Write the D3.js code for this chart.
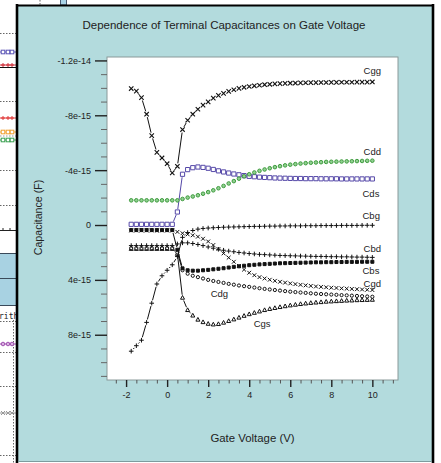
<!DOCTYPE html>
<html><head><meta charset="utf-8">
<script src="https://cdn.jsdelivr.net/npm/d3@7"></script>
<style>html,body{margin:0;padding:0;background:#fff;overflow:hidden}svg{display:block;font-family:"Liberation Sans",Arial,Helvetica,sans-serif}</style>
</head><body><svg id="c" width="441" height="463"></svg>
<script>
// ---------------- DATA (capacitance in units of 1e-15 F) ----------------
const voltage = [-1.75,-1.5,-1.25,-1,-0.75,-0.5,-0.25,0,0.25,0.5,0.75,1,1.25,1.5,1.75,2,2.25,2.5,2.75,3,3.25,3.5,3.75,4,4.25,4.5,4.75,5,5.25,5.5,5.75,6,6.25,6.5,6.75,7,7.25,7.5,7.75,8,8.25,8.5,8.75,9,9.25,9.5,9.75,10];
const Cgg = [-9.95,-9.76,-9.29,-8.08,-6.52,-5.30,-4.89,-4.47,-3.80,-4.28,-6.96,-7.64,-8.08,-8.44,-8.74,-8.98,-9.25,-9.45,-9.60,-9.74,-9.86,-9.96,-10.04,-10.10,-10.15,-10.19,-10.23,-10.26,-10.29,-10.31,-10.33,-10.34,-10.35,-10.36,-10.37,-10.38,-10.38,-10.39,-10.39,-10.40,-10.40,-10.41,-10.41,-10.41,-10.42,-10.42,-10.42,-10.43];
const Cdd = [-1.80,-1.80,-1.80,-1.80,-1.80,-1.80,-1.80,-1.80,-1.80,-1.80,-1.90,-2.00,-2.08,-2.17,-2.28,-2.40,-2.53,-2.68,-2.85,-3.03,-3.20,-3.38,-3.55,-3.70,-3.83,-3.95,-4.05,-4.14,-4.22,-4.29,-4.35,-4.40,-4.44,-4.48,-4.51,-4.54,-4.56,-4.58,-4.60,-4.61,-4.62,-4.63,-4.64,-4.65,-4.66,-4.67,-4.68,-4.69];
const Cds = [-0.05,-0.05,-0.05,-0.05,-0.05,-0.05,-0.05,-0.05,-0.05,-0.95,-3.70,-4.04,-4.18,-4.23,-4.20,-4.14,-4.05,-3.95,-3.87,-3.79,-3.72,-3.66,-3.60,-3.55,-3.52,-3.49,-3.47,-3.45,-3.43,-3.42,-3.41,-3.40,-3.39,-3.39,-3.38,-3.38,-3.38,-3.37,-3.37,-3.37,-3.37,-3.36,-3.36,-3.36,-3.36,-3.36,-3.36,-3.36];
const Cbg = [9.2,8.8,8.4,7.1,5.7,4.3,3.7,3.3,2.9,2.3,0.9,0.55,0.4,0.3,0.25,0.22,0.2,0.18,0.16,0.15,0.14,0.13,0.12,0.11,0.1,0.1,0.09,0.08,0.08,0.07,0.07,0.06,0.06,0.06,0.05,0.05,0.05,0.04,0.04,0.04,0.04,0.03,0.03,0.03,0.03,0.02,0.02,0.02];
const Cbd = [1.5,1.5,1.5,1.5,1.5,1.5,1.5,1.5,1.5,1.38,1.3,1.3,1.35,1.42,1.5,1.6,1.69,1.77,1.84,1.9,1.95,2.0,2.04,2.08,2.11,2.14,2.16,2.18,2.2,2.22,2.23,2.24,2.25,2.26,2.27,2.28,2.29,2.29,2.3,2.31,2.31,2.32,2.32,2.33,2.34,2.34,2.35,2.36];
const Cbs = [0.37,0.37,0.37,0.37,0.37,0.37,0.37,0.37,0.37,1.8,3.16,3.3,3.33,3.33,3.3,3.27,3.23,3.19,3.15,3.1,3.05,3.01,2.97,2.93,2.9,2.87,2.85,2.83,2.81,2.79,2.78,2.77,2.76,2.75,2.74,2.73,2.72,2.72,2.71,2.71,2.7,2.7,2.69,2.69,2.69,2.68,2.68,2.68];
const Cgd = [0.4,0.4,0.4,0.4,0.4,0.4,0.4,0.4,0.4,0.5,0.6,0.68,0.75,0.85,1.0,1.2,1.46,1.75,2.07,2.38,2.68,2.98,3.25,3.48,3.66,3.8,3.9,3.99,4.07,4.14,4.2,4.26,4.31,4.36,4.4,4.44,4.48,4.51,4.54,4.57,4.59,4.62,4.64,4.66,4.68,4.7,4.72,4.74];
const Cdg = [1.68,1.68,1.68,1.68,1.68,1.68,1.68,1.68,1.68,2.0,3.3,3.55,3.7,3.8,3.9,4.0,4.08,4.15,4.22,4.29,4.35,4.41,4.46,4.51,4.56,4.61,4.66,4.7,4.74,4.78,4.82,4.86,4.89,4.92,4.95,4.98,5.01,5.03,5.05,5.07,5.09,5.11,5.13,5.15,5.17,5.19,5.21,5.23];
const Cgs = [1.74,1.74,1.74,1.74,1.74,1.74,1.74,1.74,1.74,2.1,5.3,6.2,6.6,6.9,7.08,7.2,7.25,7.22,7.12,7.0,6.88,6.75,6.62,6.5,6.4,6.3,6.2,6.12,6.05,5.98,5.92,5.86,5.81,5.76,5.72,5.68,5.65,5.62,5.59,5.57,5.55,5.53,5.51,5.5,5.48,5.47,5.46,5.45];

const seriesNames = ["Cgs","Cdg","Cgd","Cbs","Cbd","Cbg","Cds","Cdd","Cgg"];
const seriesValues = {Cgg,Cdd,Cds,Cbg,Cbd,Cbs,Cgd,Cdg,Cgs};
// label anchor (data coords: volts, 1e-15 F)
const labelV = {Cgg:9.57,Cdd:9.57,Cds:9.52,Cbg:9.52,Cbd:9.57,Cbs:9.52,Cgd:9.57,Cdg:2.12,Cgs:4.22};
const labelC = {Cgg:-11.0,Cdd:-5.1,Cds:-2.04,Cbg:-0.44,Cbd:1.97,Cbs:3.57,Cgd:4.52,Cdg:5.25,Cgs:7.44};

const xMajor = [-2,0,2,4,6,8,10];
const xTickLabels = ["-2","0","2","4","6","8","10"];
const xMinor = [-2.5,-1.5,-1,-0.5,0.5,1,1.5,2.5,3,3.5,4.5,5,5.5,6.5,7,7.5,8.5,9,9.5,10.5,11];
const yMajor = [-12,-8,-4,0,4,8];
const yTickLabels = ["-1.2e-14","-8e-15","-4e-15","0","4e-15","8e-15"];
const yMinor = [-11,-10,-9,-7,-6,-5,-3,-2,-1,1,2,3,5,6,7,9,10,11];

const title = "Dependence of Terminal Capacitances on Gate Voltage";
const xTitle = "Gate Voltage (V)";
const yTitle = "Capacitance (F)";

// ---------------- STYLES ----------------
const style = {
  Cgg:{m:"x",s:2.2,sw:1.1,stroke:"#111",fill:"none",line:"#111"},
  Cdd:{m:"circle",s:1.8,sw:1,stroke:"#3f9c3f",fill:"#90d090",line:"#46a846"},
  Cds:{m:"square",s:2.1,sw:1,stroke:"#5548a8",fill:"#fff",line:"#5548a8"},
  Cbg:{m:"plus",s:2.3,sw:1,stroke:"#111",fill:"none",line:"#111"},
  Cbd:{m:"plus",s:2.3,sw:1,stroke:"#111",fill:"none",line:"#111"},
  Cbs:{m:"fsquare",s:1.5,sw:1,stroke:"#111",fill:"#111",line:"#111"},
  Cgd:{m:"x",s:1.9,sw:1,stroke:"#111",fill:"none",line:"#111"},
  Cdg:{m:"circle",s:1.6,sw:1,stroke:"#111",fill:"#fff",line:"#111"},
  Cgs:{m:"tri",s:2.0,sw:1,stroke:"#111",fill:"#fff",line:"#111"}
};

const svg = d3.select("#c");
const W=441,H=463;
svg.append("rect").attr("width",W).attr("height",H).attr("fill","#fff");

// ---- background window fragment on the left ----
const bg = svg.append("g");
function dotted(x1,y1,x2,y2,c){bg.append("line").attr("x1",x1).attr("y1",y1).attr("x2",x2).attr("y2",y2).attr("stroke",c||"#666").attr("stroke-width",1).attr("stroke-dasharray","1.5,1.5");}
dotted(40,0,40,5);
bg.append("rect").attr("x",60.5).attr("y",-1).attr("width",6).attr("height",6).attr("fill","#a9d3e6").attr("stroke","#4a5a70");
[33,101,170,205,321,352,386,455].forEach(y=>dotted(0,y+0.5,16,y+0.5));
dotted(13.5,320,13.5,463);
function mline(y,c,mk){bg.append("line").attr("x1",0).attr("x2",16).attr("y1",y).attr("y2",y).attr("stroke",c).attr("stroke-width",1);
  [3,8,12].forEach(x=>{ if(mk==="sq") bg.append("rect").attr("x",x-1.8).attr("y",y-1.8).attr("width",3.6).attr("height",3.6).attr("fill","#fff").attr("stroke",c);
    else if(mk==="plus") bg.append("path").attr("d",`M${x-2},${y}H${x+2}M${x},${y-2}V${y+2}`).attr("stroke",c);
    else if(mk==="circ") bg.append("circle").attr("cx",x).attr("cy",y).attr("r",1.8).attr("fill","#d9b3e0").attr("stroke",c);
    else if(mk==="x") bg.append("path").attr("d",`M${x-2},${y-2}L${x+2},${y+2}M${x-2},${y+2}L${x+2},${y-2}`).attr("stroke",c);});}
mline(52,"#5b55b5","sq");
mline(65,"#d0303a","plus");
bg.append("line").attr("x1",0).attr("x2",16).attr("y1",67.5).attr("y2",67.5).attr("stroke","#111");
mline(118,"#e03a3a","plus");
mline(132,"#f0a030","sq");
dotted(0,136,16,136,"#999");
mline(140,"#3aa050","sq");
bg.append("line").attr("x1",0).attr("x2",16).attr("y1",230.5).attr("y2",230.5).attr("stroke","#222");
[3,10].forEach(x=>bg.append("line").attr("x1",x).attr("x2",x).attr("y1",228).attr("y2",230).attr("stroke","#222"));
bg.append("rect").attr("x",0).attr("y",253).attr("width",16).attr("height",52).attr("fill","#a8d2e2");
[253.5,278.5,305.5].forEach(y=>bg.append("line").attr("x1",0).attr("x2",16).attr("y1",y).attr("y2",y).attr("stroke","#3a4a5a"));
bg.append("text").attr("x",-1).attr("y",319).attr("font-family","DejaVu Sans Mono, monospace").attr("font-size",8).attr("fill","#222").text("rith");
mline(344,"#a050b0","circ");
mline(413,"#999","x");

// ---- teal panel ----
svg.append("rect").attr("x",17).attr("y",5.5).attr("width",416).attr("height",456).attr("fill","#b3dbdd");
svg.append("line").attr("x1",17).attr("x2",17).attr("y1",4).attr("y2",463).attr("stroke","#000").attr("stroke-width",2.6);
svg.append("line").attr("x1",433).attr("x2",433).attr("y1",4).attr("y2",463).attr("stroke","#000").attr("stroke-width",2.6);
svg.append("line").attr("x1",16).attr("x2",434).attr("y1",5.5).attr("y2",5.5).attr("stroke","#000").attr("stroke-width",2);
svg.append("line").attr("x1",18).attr("x2",432).attr("y1",461.5).attr("y2",461.5).attr("stroke","#7d9c9e").attr("stroke-width",1);

// ---- scales ----
const L=107,R=398,T=57,B=380;
const x = d3.scaleLinear().domain([-2.93,11.25]).range([L,R]);
const y = d3.scaleLinear().domain([-12.25,11.3]).range([T,B]);

svg.append("rect").attr("x",L).attr("y",T).attr("width",R-L).attr("height",B-T).attr("fill","#fff").attr("stroke","#8a9a9a").attr("stroke-width",1);

// axes
const gy = svg.append("g").attr("transform",`translate(${L},0)`);
gy.call(d3.axisLeft(y).tickValues(yMinor).tickSize(6).tickFormat(""));
gy.call(g=>g.selectAll(".tick line").attr("stroke","#666"));
const gy2 = svg.append("g").attr("transform",`translate(${L},0)`);
gy2.call(d3.axisLeft(y).tickValues(yMajor).tickSize(12).tickPadding(4).tickFormat((d,i)=>yTickLabels[i]));
gy2.selectAll(".tick line").attr("stroke","#222").attr("stroke-width",1.4);
gy2.selectAll("text").attr("font-size",9).attr("fill","#222").attr("font-family","Liberation Sans, Arial, sans-serif");
[gy,gy2].forEach(g=>g.select(".domain").remove());

const gx = svg.append("g").attr("transform",`translate(0,${B})`);
gx.call(d3.axisBottom(x).tickValues(xMinor).tickSize(3.5).tickFormat(""));
gx.selectAll(".tick line").attr("stroke","#555");
const gx2 = svg.append("g").attr("transform",`translate(0,${B})`);
gx2.call(d3.axisBottom(x).tickValues(xMajor).tickSize(7).tickPadding(5).tickFormat((d,i)=>xTickLabels[i]));
gx2.selectAll(".tick line").attr("stroke","#222").attr("stroke-width",1.4);
gx2.selectAll("text").attr("font-size",9).attr("fill","#222").attr("font-family","Liberation Sans, Arial, sans-serif");
[gx,gx2].forEach(g=>g.select(".domain").remove());

// titles
svg.append("text").attr("x",224).attr("y",29).attr("text-anchor","middle").attr("font-size",11.5).attr("fill","#222").text(title);
svg.append("text").attr("x",252.5).attr("y",441.5).attr("text-anchor","middle").attr("font-size",11.4).attr("fill","#222").text(xTitle);
svg.append("text").attr("transform","translate(42,217.5) rotate(-90)").attr("text-anchor","middle").attr("font-size",10.6).attr("fill","#222").text(yTitle);

// ---- series ----
const plot = svg.append("g");
function markerPath(m,s){
  switch(m){
    case "x": return `M${-s},${-s}L${s},${s}M${-s},${s}L${s},${-s}`;
    case "plus": return `M${-s},0H${s}M0,${-s}V${s}`;
    case "square": case "fsquare": return `M${-s},${-s}H${s}V${s}H${-s}Z`;
    case "tri": return `M0,${-s*1.1}L${s},${s*0.75}L${-s},${s*0.75}Z`;
    case "circle": return d3.arc()({innerRadius:0,outerRadius:s,startAngle:0,endAngle:2*Math.PI});
  }
}
seriesNames.forEach(name=>{
  const vals = seriesValues[name], st = style[name];
  const pts = voltage.map((v,i)=>[x(v),y(vals[i])]);
  const gap = 3.0;
  const g = plot.append("g");
  for(let i=0;i<pts.length-1;i++){
    const [x0,y0]=pts[i],[x1,y1]=pts[i+1];
    const dx=x1-x0,dy=y1-y0,len=Math.hypot(dx,dy);
    if(len<=2*gap+0.6) continue;
    const ux=dx/len,uy=dy/len;
    g.append("line").attr("x1",x0+ux*gap).attr("y1",y0+uy*gap).attr("x2",x1-ux*gap).attr("y2",y1-uy*gap)
      .attr("stroke",st.line).attr("stroke-width",1);
  }
  g.selectAll("path.m").data(pts).join("path").attr("class","m")
    .attr("transform",d=>`translate(${d[0]},${d[1]})`)
    .attr("d",markerPath(st.m,st.s))
    .attr("fill",st.fill).attr("stroke",st.stroke).attr("stroke-width",st.sw);
});
// labels
seriesNames.forEach(name=>{
  svg.append("text").attr("x",x(labelV[name])).attr("y",y(labelC[name])).attr("font-size",9.5).attr("fill","#222").text(name);
});
</script></body></html>
